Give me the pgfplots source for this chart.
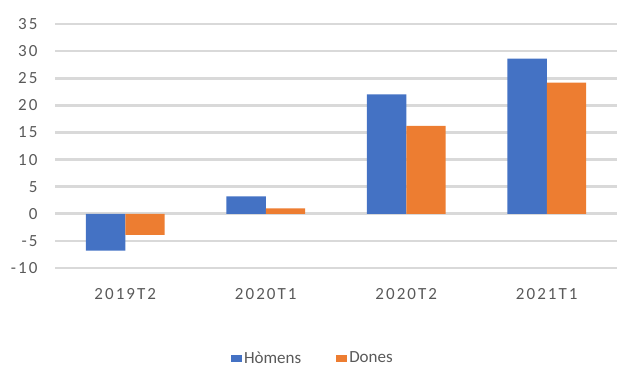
\documentclass[border=0pt]{standalone}
\usepackage{pgfplots}
\pgfplotsset{compat=1.18}
\usepackage{fontspec}
\setmainfont{Carlito}
\newfontfamily\tickfont{Carlito}[LetterSpace=12]
\definecolor{cblue}{HTML}{4472C4}
\definecolor{corange}{HTML}{ED7D31}
\definecolor{cgrid}{HTML}{D9D9D9}
\definecolor{ctext}{HTML}{595959}
\begin{document}
\begin{tikzpicture}
\path[use as bounding box, clip] (0,0) rectangle (617bp,367bp);
\begin{axis}[
  at={(55bp,99bp)}, anchor=south west,
  scale only axis, width=562bp, height=244bp,
  ybar=0pt, bar width=0.281,
  xmin=-0.5, xmax=3.5, ymin=-10, ymax=35,
  axis line style={draw=none},
  xtick={0,1,2,3},
  xticklabels={2019T2,2020T1,2020T2,2021T1},
  ytick={-10,-5,0,5,10,15,20,25,30,35},
  yticklabels={-10,-5,0,5,10,15,20,25,30,35},
  ymajorgrids, major grid style={line width=2.6bp, cgrid},
  major tick length=0pt,
  tick label style={font=\fontsize{17bp}{20bp}\tickfont, text=ctext},
  yticklabel style={anchor=east, xshift=-14bp},
  xticklabel style={anchor=north, yshift=-17bp},
  legend columns=2,
  legend style={draw=none, fill=none, at={(0.313,-0.37)}, anchor=west,
    font=\fontsize{17bp}{20bp}\selectfont, text=ctext,
    /tikz/every even column/.append style={column sep=33bp},
    inner sep=0pt},
  legend image code/.code={\fill[#1] (0bp,-3.5bp) rectangle (11bp,3.5bp);},
]
\addplot[fill=cblue, draw=none] coordinates {(0,-6.8) (1,3.2) (2,22.0) (3,28.6)};
\addplot[fill=corange, draw=none] coordinates {(0,-3.9) (1,1.0) (2,16.2) (3,24.2)};
\legend{Hòmens, Dones}
\end{axis}
\end{tikzpicture}
\end{document}
